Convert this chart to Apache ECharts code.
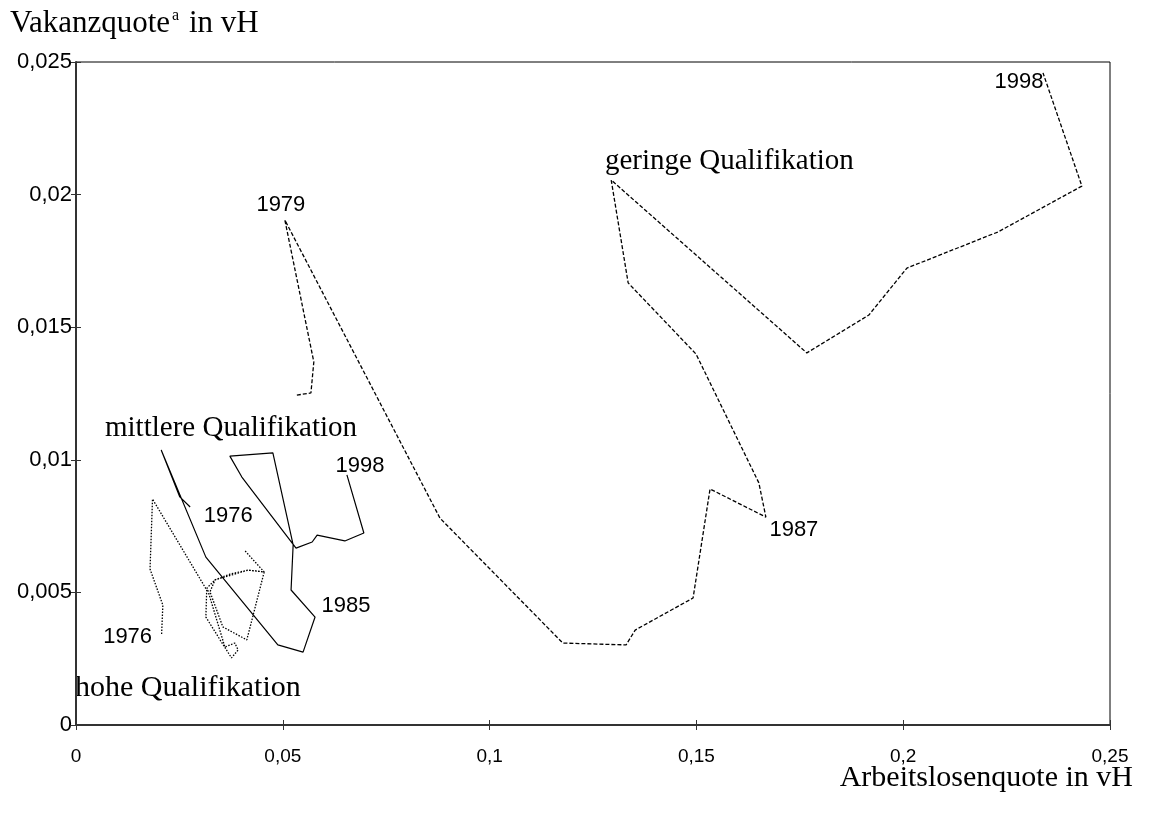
<!DOCTYPE html>
<html>
<head>
<meta charset="utf-8">
<title>Vakanzquote / Arbeitslosenquote</title>
<script src="https://cdn.jsdelivr.net/npm/echarts/dist/echarts.min.js"></script>
<style>
  html, body { margin: 0; padding: 0; background: #fff; }
  #chart { width: 1154px; height: 814px; }
</style>
</head>
<body>
<div id="chart"></div>
<script>
// [Arbeitslosenquote, Vakanzquote] per year
var geringe = [
  [0.0534, 0.01244], [0.0568, 0.01252], [0.0575, 0.01369], [0.0505, 0.01904],
  [0.0880, 0.0078], [0.1177, 0.00309], [0.1330, 0.00302], [0.1352, 0.00358],
  [0.1492, 0.00479], [0.1533, 0.0089], [0.1668, 0.00784], [0.1651, 0.00913],
  [0.1499, 0.01399], [0.1335, 0.01667], [0.1294, 0.02055], [0.1767, 0.01403],
  [0.1917, 0.01546], [0.2009, 0.01723], [0.2229, 0.01859], [0.2432, 0.02032],
  [0.2338, 0.02459]
];
var mittlere = [
  [0.0276, 0.00822], [0.0251, 0.0086], [0.0206, 0.01037], [0.0314, 0.00633],
  [0.0488, 0.00302], [0.0549, 0.00275], [0.0578, 0.00407], [0.0520, 0.00509],
  [0.0525, 0.00679], [0.0476, 0.01026], [0.0372, 0.01014], [0.0401, 0.00935],
  [0.0532, 0.00667], [0.0571, 0.0069], [0.0583, 0.00716], [0.0650, 0.00694],
  [0.0696, 0.00724], [0.0655, 0.00943]
];
var hohe = [
  [0.0207, 0.00343], [0.0210, 0.00452], [0.0179, 0.00588], [0.0185, 0.00852],
  [0.0316, 0.00509], [0.0314, 0.00407], [0.0356, 0.00302], [0.0376, 0.00253],
  [0.0392, 0.00283], [0.0384, 0.00309], [0.0360, 0.00294], [0.0317, 0.00517],
  [0.0336, 0.00547], [0.0372, 0.00569], [0.0416, 0.00584], [0.0455, 0.00577],
  [0.0413, 0.00321], [0.0355, 0.0037], [0.0324, 0.00502], [0.0336, 0.00547],
  [0.0416, 0.00584], [0.0455, 0.00577], [0.0409, 0.00656]
];

// year labels: [series point index, text]
var geringeYears = [[3, '1979'], [10, '1987'], [20, '1998']];
var mittlereYears = [[0, '1976'], [6, '1985'], [17, '1998']];
var hoheYears = [[0, '1976']];

var xTicks = [0, 0.25, 0.05];
var yTicks = [0, 0.025, 0.005];

var labelOffsets = {
  geringe: [[-4, -15], [28, 13], [-24, 9]],
  mittlere: [[38, 9], [31, -11], [13, -9]],
  hohe: [[-34, 3]]
};

var sans = 'Liberation Sans, Arial, sans-serif';
var serif = 'Liberation Serif, Times New Roman, serif';

function comma(v) {
  return String(+v.toFixed(4)).replace('.', ',');
}

function yearMarks(points, years, offsets) {
  return {
    symbol: 'circle',
    symbolSize: 0,
    silent: true,
    label: { show: true, formatter: '{b}', color: '#000', fontFamily: sans, fontSize: 22 },
    data: years.map(function (y, i) {
      return { name: y[1], coord: points[y[0]], label: { offset: offsets[i] } };
    })
  };
}

function lineSeries(name, points, dash, width, years, offsets) {
  return {
    name: name,
    type: 'line',
    data: points,
    symbol: 'none',
    silent: true,
    animation: false,
    lineStyle: { color: '#000', width: width, type: dash },
    markPoint: yearMarks(points, years, offsets)
  };
}

var chart = echarts.init(document.getElementById('chart'));

var option = {
  backgroundColor: '#fff',
  animation: false,
  grid: {
    left: 76, right: 44, top: 62, bottom: 89,
    show: true, borderColor: '#000', borderWidth: 1
  },
  xAxis: [{
    type: 'value', min: xTicks[0], max: xTicks[1], interval: xTicks[2],
    axisLine: { show: true, lineStyle: { color: '#333', width: 2 } },
    axisTick: { show: true, length: 5, lineStyle: { color: '#333' } },
    axisLabel: { color: '#000', fontFamily: sans, fontSize: 19, margin: 22, formatter: comma },
    splitLine: { show: false }
  }, {
    type: 'value', min: xTicks[0], max: xTicks[1], interval: xTicks[2], position: 'bottom',
    axisLine: { show: false },
    axisTick: { show: true, inside: true, length: 5, lineStyle: { color: '#333' } },
    axisLabel: { show: false },
    splitLine: { show: false }
  }],
  yAxis: [{
    type: 'value', min: yTicks[0], max: yTicks[1], interval: yTicks[2],
    axisLine: { show: true, lineStyle: { color: '#333', width: 2 } },
    axisTick: { show: true, length: 5, lineStyle: { color: '#333' } },
    axisLabel: { color: '#000', fontFamily: sans, fontSize: 22, margin: 4, formatter: comma },
    splitLine: { show: false }
  }, {
    type: 'value', min: yTicks[0], max: yTicks[1], interval: yTicks[2], position: 'left',
    axisLine: { show: false },
    axisTick: { show: true, inside: true, length: 5, lineStyle: { color: '#333' } },
    axisLabel: { show: false },
    splitLine: { show: false }
  }],
  graphic: [
    {
      type: 'text', left: 10, top: 8,
      style: {
        text: '{m|Vakanzquote}{s|a}{m| in vH}',
        rich: {
          m: { fontFamily: serif, fontSize: 31, fill: '#000', verticalAlign: 'bottom' },
          s: { fontFamily: serif, fontSize: 16, fill: '#000', verticalAlign: 'top', padding: [0, 2, 14, 2] }
        }
      }
    },
    { type: 'text', right: 21, top: 763, style: { text: 'Arbeitslosenquote in vH', fontFamily: serif, fontSize: 30, fill: '#000' } },
    { type: 'text', left: 605, top: 147, style: { text: 'geringe Qualifikation', fontFamily: serif, fontSize: 29, fill: '#000' } },
    { type: 'text', left: 105, top: 414, style: { text: 'mittlere Qualifikation', fontFamily: serif, fontSize: 29, fill: '#000' } },
    { type: 'text', left: 75, top: 673, style: { text: 'hohe Qualifikation', fontFamily: serif, fontSize: 30, fill: '#000' } }
  ],
  series: [
    lineSeries('geringe Qualifikation', geringe, [4, 2], 1.3, geringeYears, labelOffsets.geringe),
    lineSeries('mittlere Qualifikation', mittlere, 'solid', 1.2, mittlereYears, labelOffsets.mittlere),
    lineSeries('hohe Qualifikation', hohe, [1.5, 1.5], 1.3, hoheYears, labelOffsets.hohe)
  ]
};

chart.setOption(option);
</script>
</body>
</html>
